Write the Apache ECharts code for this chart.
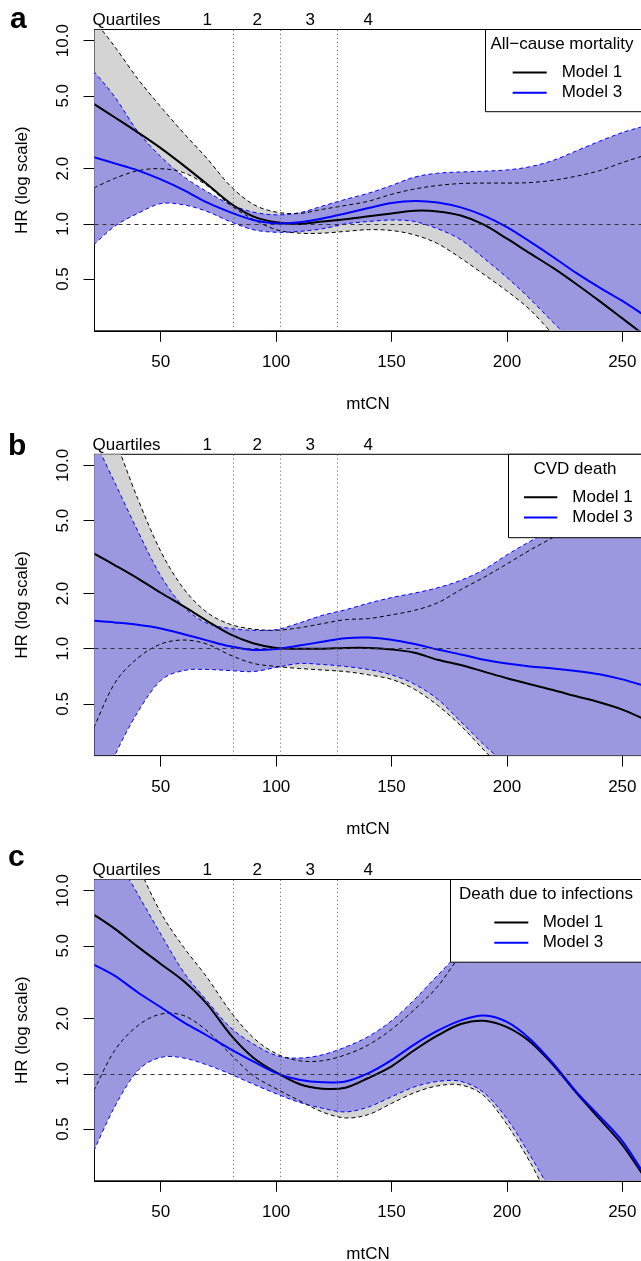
<!DOCTYPE html>
<html>
<head>
<meta charset="UTF-8">
<title>mtCN hazard ratios</title>
<script src="https://cdn.jsdelivr.net/npm/echarts@6/dist/echarts.min.js"></script>
<style>
  html, body { margin: 0; padding: 0; background: #fff; }
  #chart { width: 641px; height: 1261px; }
</style>
</head>
<body>
<div id="chart"></div>
<script>
// mtCN values the curves were read at
const mtcn = [21, 30, 40, 50, 60, 70, 80, 90, 100, 110, 120, 130, 140, 150, 160, 170, 180, 190, 200, 210, 220, 230, 240, 250, 259];

// a: all-cause mortality (HR, model 1 / model 3, with 95% CI)
const allM1   = [4.52, 3.82, 3.16, 2.59, 2.08, 1.65, 1.30, 1.10, 1.02, 1.00, 1.03, 1.06, 1.10, 1.14, 1.18, 1.17, 1.11, 0.99, 0.83, 0.69, 0.575, 0.47, 0.38, 0.305, 0.25];
const allM1Lo = [1.57, 1.77, 1.95, 2.00, 1.90, 1.62, 1.27, 1.06, 0.93, 0.89, 0.89, 0.91, 0.93, 0.92, 0.87, 0.78, 0.65, 0.53, 0.43, 0.34, 0.25, 0.19, 0.15, 0.12, 0.10];
const allM1Hi = [13.0, 9.3, 6.2, 4.36, 3.12, 2.28, 1.62, 1.28, 1.16, 1.14, 1.20, 1.26, 1.33, 1.45, 1.55, 1.62, 1.66, 1.67, 1.67, 1.68, 1.73, 1.82, 1.95, 2.16, 2.35];
const allM3   = [2.31, 2.14, 1.96, 1.75, 1.53, 1.31, 1.16, 1.05, 1.005, 1.02, 1.07, 1.14, 1.22, 1.30, 1.335, 1.31, 1.23, 1.11, 0.96, 0.80, 0.66, 0.54, 0.45, 0.38, 0.32];
const allM3Lo = [0.77, 0.97, 1.14, 1.29, 1.27, 1.17, 1.03, 0.93, 0.90, 0.91, 0.94, 1.00, 1.03, 1.05, 1.03, 0.94, 0.82, 0.65, 0.51, 0.39, 0.29, 0.22, 0.17, 0.13, 0.11];
const allM3Hi = [6.8, 4.95, 3.2, 2.33, 1.81, 1.50, 1.28, 1.16, 1.12, 1.15, 1.25, 1.36, 1.47, 1.62, 1.80, 1.89, 1.92, 1.94, 1.97, 2.05, 2.22, 2.50, 2.82, 3.15, 3.40];

// b: CVD death
const cvdM1   = [3.31, 2.86, 2.42, 2.02, 1.70, 1.42, 1.20, 1.07, 1.01, 1.00, 1.00, 1.01, 1.01, 0.99, 0.95, 0.87, 0.815, 0.75, 0.69, 0.64, 0.595, 0.55, 0.51, 0.465, 0.415];
const cvdM1Lo = [0.37, 0.647, 0.887, 1.06, 1.115, 1.06, 0.924, 0.832, 0.80, 0.78, 0.765, 0.75, 0.72, 0.68, 0.60, 0.49, 0.38, 0.28, 0.21, 0.16, 0.12, 0.095, 0.075, 0.06, 0.05];
const cvdM1Hi = [25, 14, 6.6, 3.4, 2.12, 1.58, 1.36, 1.28, 1.26, 1.30, 1.37, 1.44, 1.46, 1.53, 1.62, 1.78, 2.10, 2.45, 2.90, 3.45, 4.05, 4.8, 5.6, 6.5, 7.4];
const cvdM3   = [1.42, 1.39, 1.35, 1.29, 1.20, 1.11, 1.03, 0.985, 0.995, 1.04, 1.09, 1.14, 1.15, 1.12, 1.06, 0.99, 0.93, 0.87, 0.83, 0.80, 0.78, 0.755, 0.725, 0.68, 0.63];
const cvdM3Lo = [0.14, 0.26, 0.45, 0.67, 0.76, 0.77, 0.76, 0.75, 0.79, 0.83, 0.82, 0.80, 0.77, 0.72, 0.64, 0.53, 0.40, 0.30, 0.23, 0.18, 0.14, 0.11, 0.09, 0.07, 0.06];
const cvdM3Hi = [14, 8.1, 4.4, 2.5, 1.69, 1.38, 1.29, 1.26, 1.27, 1.38, 1.52, 1.63, 1.77, 1.90, 2.01, 2.15, 2.36, 2.70, 3.25, 3.85, 4.5, 5.3, 6.2, 7.2, 8.2];

// c: death due to infections
const infM1   = [7.4, 6.2, 4.95, 3.98, 3.2, 2.41, 1.65, 1.23, 1.02, 0.88, 0.83, 0.84, 0.95, 1.10, 1.35, 1.62, 1.87, 1.95, 1.80, 1.50, 1.12, 0.79, 0.57, 0.41, 0.28];
const infM1Lo = [0.81, 1.34, 1.83, 2.12, 2.08, 1.72, 1.29, 0.98, 0.83, 0.715, 0.62, 0.575, 0.60, 0.69, 0.79, 0.86, 0.87, 0.76, 0.53, 0.33, 0.19, 0.12, 0.08, 0.05, 0.035];
const infM1Hi = [60, 30, 14, 7.6, 4.9, 3.37, 2.21, 1.58, 1.29, 1.18, 1.18, 1.27, 1.44, 1.75, 2.25, 3.0, 4.4, 5.2, 6.1, 6.8, 6.6, 6.0, 5.6, 5.4, 5.4];
const infM3   = [3.95, 3.44, 2.79, 2.31, 1.91, 1.62, 1.37, 1.17, 1.01, 0.93, 0.90, 0.91, 1.01, 1.19, 1.45, 1.72, 1.96, 2.08, 1.92, 1.55, 1.14, 0.80, 0.59, 0.43, 0.29];
const infM3Lo = [0.38, 0.66, 1.04, 1.23, 1.22, 1.12, 1.00, 0.88, 0.78, 0.70, 0.65, 0.62, 0.66, 0.75, 0.85, 0.91, 0.91, 0.79, 0.57, 0.36, 0.22, 0.14, 0.09, 0.06, 0.04];
const infM3Hi = [28, 16, 9.6, 5.8, 3.58, 2.51, 1.80, 1.46, 1.26, 1.22, 1.27, 1.40, 1.60, 1.95, 2.55, 3.45, 4.6, 5.5, 6.4, 6.6, 6.0, 5.5, 5.2, 5.0, 5.0];

const xTicks = [50, 100, 150, 200, 250];
const yTicks = [0.5, 1, 2, 5, 10];
const quartileCuts = [81.2, 101.7, 126.6];
const quartileLabels = ['Quartiles', '1', '2', '3', '4'];
const quartileLabelX = [35.2, 70.1, 91.8, 114.8, 139.9];
const panelLetters = ['a', 'b', 'c'];
const legendTitles = ['All\u2212cause mortality', 'CVD death', 'Death due to infections'];
const modelNames = ['Model 1', 'Model 3'];

const panels = [
  { m1: allM1, m1Lo: allM1Lo, m1Hi: allM1Hi, m3: allM3, m3Lo: allM3Lo, m3Hi: allM3Hi },
  { m1: cvdM1, m1Lo: cvdM1Lo, m1Hi: cvdM1Hi, m3: cvdM3, m3Lo: cvdM3Lo, m3Hi: cvdM3Hi },
  { m1: infM1, m1Lo: infM1Lo, m1Hi: infM1Hi, m3: infM3, m3Lo: infM3Lo, m3Hi: infM3Hi }
];

// layout (pixels)
const gridTop = [29.5, 454.3, 879.5];
const gridLeft = 94.5;
const plotH = 301.3;
const legendLayout = [
  { x: 485.5, h: 82.2, titleX: 562, lineX: [512.7, 546.7], textX: 561.7 },
  { x: 508.5, h: 83.4, titleX: 575, lineX: [524, 557.3], textX: 572.3 },
  { x: 450.5, h: 82.7, titleX: 546, lineX: [494.3, 528.3], textX: 542.7 }
];
const letterPos = [[10, 19.6], [8, 446.6], [8, 857.6]];

const GREY = '#d4d4d4';
const LAVENDER = '#9b98e0';
const BLUE = '#0000ff';
const FONT = '"Liberation Sans", Arial, Helvetica, sans-serif';

// smooth curve through pixel points (Catmull-Rom as cubic Bezier segments)
function curve(pts, first) {
  let d = (first ? 'M' : 'L') + pts[0][0] + ',' + pts[0][1];
  const n = pts.length;
  for (let i = 0; i < n - 1; i++) {
    const p0 = pts[Math.max(i - 1, 0)], p1 = pts[i], p2 = pts[i + 1], p3 = pts[Math.min(i + 2, n - 1)];
    d += ' C' + (p1[0] + (p2[0] - p0[0]) / 6) + ',' + (p1[1] + (p2[1] - p0[1]) / 6) +
         ' ' + (p2[0] - (p3[0] - p1[0]) / 6) + ',' + (p2[1] - (p3[1] - p1[1]) / 6) +
         ' ' + p2[0] + ',' + p2[1];
  }
  return d;
}

function bandsRenderer(p) {
  return function (params, api) {
    const cs = params.coordSys;
    const pts = ys => mtcn.map((x, i) => api.coord([x, ys[i]]));
    const band = (lo, hi, color) => ({
      type: 'path',
      shape: { pathData: curve(pts(hi), true) + ' ' + curve(pts(lo).reverse(), false) + ' Z' },
      style: { fill: color, stroke: null }
    });
    const bound = (ys, color) => ({
      type: 'path',
      shape: { pathData: curve(pts(ys), true) },
      style: { fill: null, stroke: color, lineWidth: 1, lineDash: [4, 3] }
    });
    return {
      type: 'group',
      clipPath: { type: 'rect', shape: { x: cs.x, y: cs.y, width: cs.width, height: cs.height } },
      children: [
        band(p.m1Lo, p.m1Hi, GREY),
        band(p.m3Lo, p.m3Hi, LAVENDER),
        bound(p.m3Lo, BLUE), bound(p.m3Hi, BLUE),
        bound(p.m1Lo, '#000'), bound(p.m1Hi, '#000')
      ]
    };
  };
}

function estimatesRenderer(p) {
  return function (params, api) {
    const cs = params.coordSys;
    const pts = ys => mtcn.map((x, i) => api.coord([x, ys[i]]));
    const line = (ys, color) => ({
      type: 'path',
      shape: { pathData: curve(pts(ys), true) },
      style: { fill: null, stroke: color, lineWidth: 2 }
    });
    return {
      type: 'group',
      clipPath: { type: 'rect', shape: { x: cs.x, y: cs.y, width: cs.width, height: cs.height } },
      children: [line(p.m1, '#000'), line(p.m3, BLUE)]
    };
  };
}

const grids = [], xAxes = [], yAxes = [], series = [];

panels.forEach((p, k) => {
  grids.push({
    left: gridLeft, top: gridTop[k], right: -0.5, height: plotH,
    show: true, borderColor: '#000', borderWidth: 1, backgroundColor: 'transparent',
    outerBoundsMode: 'none'
  });
  xAxes.push({
    type: 'value', gridIndex: k, min: 21.3, max: 258.3,
    name: 'mtCN', nameLocation: 'middle', nameGap: 65,
    nameTextStyle: { fontSize: 17, color: '#000', fontFamily: FONT },
    axisLine: { show: true, onZero: false, lineStyle: { color: '#000', width: 1 } },
    axisTick: { show: true, length: 11, customValues: xTicks, lineStyle: { color: '#000' } },
    axisLabel: { customValues: xTicks, fontSize: 17, color: '#000', margin: 23, fontFamily: FONT },
    splitLine: { show: false }
  });
  yAxes.push({
    type: 'log', logBase: 10, gridIndex: k, min: 0.261, max: 11.5,
    name: 'HR (log scale)', nameLocation: 'middle', nameGap: 64, nameRotate: 90,
    nameTextStyle: { fontSize: 17, color: '#000', fontFamily: FONT },
    axisLine: { show: true, onZero: false, lineStyle: { color: '#000', width: 1 } },
    axisTick: { show: true, length: 11, customValues: yTicks, lineStyle: { color: '#000' } },
    axisLabel: {
      customValues: yTicks, rotate: 90, fontSize: 17, color: '#000', margin: 23, fontFamily: FONT,
      formatter: v => Number(v).toFixed(1)
    },
    splitLine: { show: false }
  });

  series.push({
    type: 'custom', xAxisIndex: k, yAxisIndex: k, silent: true, clip: true,
    data: [[100, 1]], renderItem: bandsRenderer(p)
  });
  // reference HR = 1 and quartile cut points
  series.push({
    type: 'line', xAxisIndex: k, yAxisIndex: k, data: [], silent: true,
    markLine: {
      silent: true, symbol: 'none', label: { show: false }, animation: false,
      data: [{ yAxis: 1, lineStyle: { type: [4, 4], color: '#333', width: 1 } }]
        .concat(quartileCuts.map(q => ({ xAxis: q, lineStyle: { type: [1, 3], color: '#555', width: 1 } })))
    }
  });
  series.push({
    type: 'custom', xAxisIndex: k, yAxisIndex: k, silent: true, clip: true,
    data: [[100, 1]], renderItem: estimatesRenderer(p)
  });
});

const chart = echarts.init(document.getElementById('chart'), null, { renderer: 'canvas' });
chart.setOption({
  animation: false,
  backgroundColor: '#fff',
  textStyle: { fontFamily: FONT },
  grid: grids,
  xAxis: xAxes,
  yAxis: yAxes,
  series: series
});

// annotations: panel letters, quartile labels, boxed legends
const graphics = [];
panels.forEach((p, k) => {
  const top = gridTop[k];
  graphics.push({
    type: 'text', z: 100,
    style: { text: panelLetters[k], x: letterPos[k][0], y: letterPos[k][1], font: 'bold 30px ' + FONT, fill: '#000', textAlign: 'left', textVerticalAlign: 'middle', align: 'left', verticalAlign: 'middle' }
  });
  quartileLabels.forEach((t, j) => {
    const px = chart.convertToPixel({ xAxisIndex: k }, quartileLabelX[j]);
    graphics.push({
      type: 'text', z: 100,
      style: { text: t, x: px, y: top - 9, font: '17px ' + FONT, fill: '#000', textAlign: 'center', textVerticalAlign: 'middle', align: 'center', verticalAlign: 'middle' }
    });
  });
  const L = legendLayout[k];
  graphics.push({
    type: 'rect', z: 100,
    shape: { x: L.x, y: top, width: 200, height: L.h },
    style: { fill: '#fff', stroke: '#000', lineWidth: 1 }
  });
  graphics.push({
    type: 'text', z: 101,
    style: { text: legendTitles[k], x: L.titleX, y: top + 15.2, font: '17px ' + FONT, fill: '#000', textAlign: 'center', textVerticalAlign: 'middle', align: 'center', verticalAlign: 'middle' }
  });
  [['#000', 43], [BLUE, 63.3]].forEach(([c, dy], j) => {
    graphics.push({
      type: 'line', z: 101,
      shape: { x1: L.lineX[0], y1: top + dy, x2: L.lineX[1], y2: top + dy },
      style: { stroke: c, lineWidth: 2 }
    });
    graphics.push({
      type: 'text', z: 101,
      style: { text: modelNames[j], x: L.textX, y: top + dy, font: '17px ' + FONT, fill: '#000', textAlign: 'left', textVerticalAlign: 'middle', align: 'left', verticalAlign: 'middle' }
    });
  });
});
chart.setOption({ graphic: graphics });
</script>
</body>
</html>
